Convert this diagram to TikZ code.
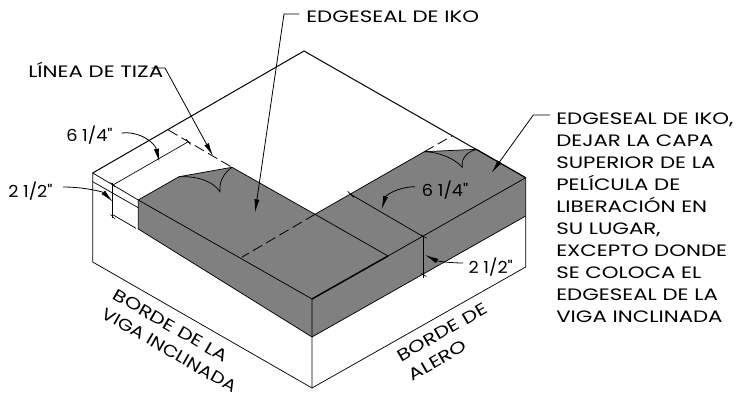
\documentclass[tikz,border=0pt]{standalone}
\usepackage{fontspec}
\setmainfont[FakeStretch=1.29]{Poppins}
\newfontfamily\dimfont[FakeStretch=1.07]{Poppins}
\newfontfamily\narrowfont[FakeStretch=1.18]{Poppins}
\usetikzlibrary{arrows.meta}
\definecolor{seal}{HTML}{808080}
\tikzset{
  px/.style={x=0.75pt,y=-0.75pt},
  edge/.style={line width=0.75pt,black,line join=miter},
  thin line/.style={line width=0.55pt,black},
  dim/.style={line width=0.5pt,black},
  dashline/.style={line width=0.6pt,black,dash pattern=on 8pt off 3.5pt},
  leader/.style={line width=0.6pt,black,-{Latex[length=10pt,width=3.8pt]}},
  lbl/.style={inner sep=0pt,font=\fontsize{12.4pt}{16.5pt}\selectfont},
  dimlbl/.style={inner sep=0pt,font=\fontsize{12.4pt}{16.5pt}\dimfont},
  stack/.style={lbl,align=left},
  slanted lbl/.style={lbl,align=left,anchor=west}
}
\begin{document}
\begin{tikzpicture}[px]
\useasboundingbox (0,0) rectangle (738,399);
% corners
\coordinate (B) at (304,51);
\coordinate (L) at (92.7,173);
\coordinate (Lb) at (92.7,262);
\coordinate (R) at (525.7,177.7);
\coordinate (Rg) at (525.7,216);
\coordinate (Rb) at (525.7,267);
\coordinate (F) at (312,299);
\coordinate (Fg) at (312,337);
\coordinate (Fb) at (312,388);
\coordinate (GL) at (138.3,200);
\coordinate (GLb) at (138.3,229);
\coordinate (C1) at (179,176.7);
\coordinate (C2) at (232,167.3);
\coordinate (In) at (315,214.3);
\coordinate (C3) at (424.3,151.7);
\coordinate (C4) at (476.7,149.3);
\coordinate (Mid) at (423.3,236.7);
\coordinate (Th) at (388,256);
\coordinate (Dd) at (241.7,257.3);
\coordinate (Tk) at (350.7,194.3);
% gray
\fill[seal] (GL) -- (C1) -- (C2) -- (In) -- (C3) -- (C4) -- (R) -- (Rg) -- (Fg) -- (GLb) -- cycle;
% outline
\draw[edge] (L) -- (B) -- (R);
\draw[thin line] (C2) -- (In) -- (C3);
\draw[thin line] (C4) -- (R) -- (Rb) -- (Fb) -- (Lb) -- (L) -- (GL);
\draw[thin line] (GL) -- (C1) -- (C2);
\draw[thin line] (C3) -- (C4);
\draw[thin line] (GL) -- (GLb) -- (Fg);
\draw[thin line] (GL) -- (F) -- (Fb);
\draw[thin line] (R) -- (Th);
\draw[line width=1.1pt] (Th) -- (F);
\draw[thin line] (Rg) -- (Fg);
\draw[thin line] (In) -- (Th);
\draw[thin line] (Tk) -- (Mid);
\draw[thin line] (92.7,181.7) -- (138.3,207.7);
\draw[thin line] (113.3,215) -- (136,228.3);
% curls
\draw[thin line] (C1) .. controls (195,176) and (212,180) .. (220,191.7) .. controls (219,181) and (224,173) .. (C2);
\draw[thin line] (C3) .. controls (437,152) and (453,157) .. (462.3,167.3) .. controls (461,158) and (467,152) .. (C4);
% chalk lines
\draw[dashline] (168.3,130) -- (C2);
\draw[dashline] (C3) -- (452,136);
\draw[dashline] (In) -- (Dd);
% dimension lines
\draw[dim] (112.7,183) -- (112.7,218);
\draw[dim] (110.5,182.5) -- (115,187) (110.5,214.5) -- (115,219);
\draw[dim] (113,185) -- (188.3,141.7);
\draw[dim] (186,139) -- (190.5,144.5);
\draw[dim] (Tk) ++(-3,-3) -- ++(6,6);
\draw[dim] (423.7,236) -- (423.7,278);
\draw[dim] (421,235) -- (426.5,238) (421,273.5) -- (426.5,276.5);
% labels
\node[lbl,anchor=base west] (seal1) at (306,23) {EDGESEAL DE IKO};
\node[lbl,anchor=base west] (tiza) at (28,78) {LÍNEA DE TIZA};
\node[dimlbl,anchor=base west] (w1) at (66,142) {6 1/4"};
\node[dimlbl,anchor=base west] (h1) at (8,197) {2 1/2"};
\node[dimlbl,anchor=base west] (w2) at (421.7,196) {6 1/4"};
\node[dimlbl,anchor=base west] (h2) at (468.3,273) {2 1/2"};
\node[stack,anchor=north west] (seal2) at (556,113) {EDGESEAL DE IKO,\\DEJAR LA CAPA\\SUPERIOR DE LA\\PELÍCULA DE\\LIBERACIÓN EN\\SU LUGAR,\\EXCEPTO DONDE\\SE COLOCA EL\\EDGESEAL DE LA\\VIGA INCLINADA};
\node[slanted lbl,rotate=-30] (rake) at (109,302.5) {BORDE DE LA\\{\narrowfont VIGA INCLINADA}};
\node[slanted lbl,rotate=30] (eave) at (404,367) {BORDE DE\\ALERO};
% leaders
\coordinate (s1s) at (299.3,14);
\coordinate (s1a) at (284,14);
\coordinate (s1t) at (255,212.7);
\coordinate (t1s) at (151.7,68);
\coordinate (t1a) at (165,68);
\coordinate (t1t) at (213,156);
\coordinate (s2s) at (550,115);
\coordinate (s2a) at (533.3,115);
\coordinate (s2t) at (491.7,172.7);
\draw[leader] (s1s) -- (s1a) -- (s1t);
\draw[leader] (t1s) -- (t1a) -- (t1t);
\draw[leader] (s2s) -- (s2a) -- (s2t);
\draw[leader] (121.7,133) .. controls (140,131) and (155,143) .. (159.3,162);
\draw[leader] (63,187) .. controls (85,187) and (103,192) .. (112.7,201.7);
\draw[leader] (415,186.7) .. controls (398,187) and (386,195) .. (381.7,209.3);
\draw[leader] (463,263) .. controls (450,263) and (437,261) .. (425,255);
\end{tikzpicture}
\end{document}
